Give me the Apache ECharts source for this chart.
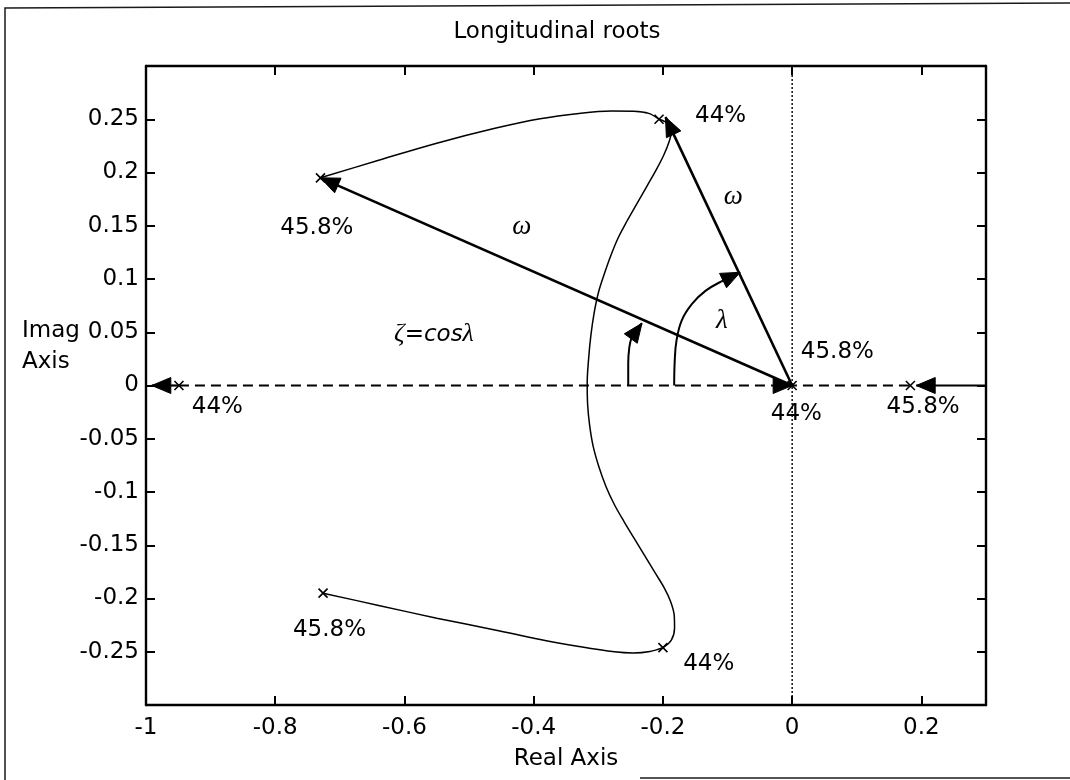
<!DOCTYPE html>
<html>
<head>
<meta charset="utf-8">
<title>Longitudinal roots</title>
<script src="https://cdn.jsdelivr.net/npm/echarts@6/dist/echarts.min.js"></script>
<style>
  html, body { margin: 0; padding: 0; background: #ffffff; }
  #chart { width: 1070px; height: 780px; }
</style>
</head>
<body>
<div id="chart"></div>
<script>
// ---- Text ----
const titleText = 'Longitudinal roots';
const xAxisName = 'Real Axis';
const yAxisName = 'Imag\nAxis';

// ---- Root-locus branches, [real, imag] ----
const upperBranch = [
  [-0.730, 0.195], [-0.640, 0.2115], [-0.550, 0.2275], [-0.460, 0.2415],
  [-0.390, 0.2505], [-0.330, 0.2555], [-0.280, 0.2577], [-0.245, 0.2575],
  [-0.222, 0.2555], [-0.206, 0.250]
];
const lowerBranch = [
  [-0.726, -0.195], [-0.640, -0.2065], [-0.550, -0.2185], [-0.460, -0.2295],
  [-0.390, -0.2385], [-0.330, -0.245], [-0.275, -0.2500], [-0.246, -0.2511],
  [-0.220, -0.2497], [-0.200, -0.2461]
];
const crossBranch = [
  [-0.206, 0.250], [-0.190, 0.245], [-0.187, 0.238], [-0.191, 0.228],
  [-0.199, 0.216], [-0.210, 0.203], [-0.224, 0.188], [-0.240, 0.171],
  [-0.256, 0.154], [-0.269, 0.139], [-0.280, 0.123], [-0.290, 0.106],
  [-0.2995, 0.088], [-0.3065, 0.068], [-0.3115, 0.047], [-0.315, 0.025],
  [-0.3172, 0.002], [-0.3165, -0.018], [-0.3135, -0.037], [-0.308, -0.057],
  [-0.299, -0.0766], [-0.288, -0.095], [-0.275, -0.112], [-0.260, -0.128],
  [-0.244, -0.144], [-0.228, -0.160], [-0.212, -0.176], [-0.198, -0.190],
  [-0.188, -0.203], [-0.1825, -0.216], [-0.182, -0.228], [-0.187, -0.239],
  [-0.200, -0.2461]
];
// Real-axis branch between the two real roots (dashed)
const realBranch = [[-0.949, 0], [0.183, 0]];
// Real-axis tails leaving the plot
const leftTail = [[-0.949, 0], [-0.991, 0]];
const rightTail = [[0.300, 0], [0.192, 0]];
// Imaginary-axis reference line
const imagRef = [[0, -0.3], [0, 0.3]];

// ---- Natural-frequency vectors (omega) ----
const omegaTo458 = [[0, 0], [-0.730, 0.195]];
const omegaTo44 = [[0, 0], [-0.196, 0.252]];

// ---- Damping angle arcs (lambda) ----
const lambdaArc44 = [
  [-0.1826, 0], [-0.1817, 0.0235], [-0.179, 0.0422], [-0.171, 0.061],
  [-0.155, 0.0766], [-0.1337, 0.0891], [-0.107, 0.0985], [-0.0805, 0.1063]
];
const lambdaArc458 = [
  [-0.2537, 0], [-0.2537, 0.0204], [-0.252, 0.0359], [-0.2483, 0.0453],
  [-0.243, 0.0516], [-0.2324, 0.0585]
];

// ---- Arrowheads: [fromReal, fromImag, tipReal, tipImag] ----
const arrowHeads = [
  [0, 0, -0.730, 0.195],
  [0, 0, -0.196, 0.252],
  [-0.107, 0.0985, -0.0805, 0.1063],
  [-0.2483, 0.0453, -0.2324, 0.0585],
  [-0.949, 0, -0.991, 0],
  [0.300, 0, 0.192, 0],
  [-0.100, 0, 0, 0]
];

// ---- Roots at the two CG positions ----
const roots = [
  [-0.730, 0.195], [-0.206, 0.250], [-0.726, -0.195], [-0.200, -0.2461],
  [-0.949, 0], [0.183, 0], [0, 0]
];

// ---- Annotations: [real, imag, text] ----
const rootLabels = [
  [-0.7356, 0.1479, '45.8%'],
  [-0.1108, 0.2526, '44%'],
  [0.070, 0.0313, '45.8%'],
  [0.0065, -0.0272, '44%'],
  [0.2027, -0.0203, '45.8%'],
  [-0.8896, -0.0203, '44%'],
  [-0.716, -0.2298, '45.8%'],
  [-0.129, -0.262, '44%']
];
const greekLabels = [
  [-0.4184, 0.1485, 'ω'],
  [-0.091, 0.1773, 'ω'],
  [-0.1087, 0.061, 'λ']
];
const dampingNote = [-0.5543, 0.0478, '{g|ζ}{s|=cos}{g|λ}'];

// ---- Styling ----
const SANS = '"DejaVu Sans", "Liberation Sans", Arial, sans-serif';
const SERIF = '"Liberation Serif", "DejaVu Serif", "Times New Roman", serif';
const INK = '#000000';
const FS = 23;

function path(data, width, opts) {
  return Object.assign({
    type: 'line',
    data: data,
    symbol: 'none',
    showSymbol: false,
    silent: true,
    smooth: false,
    clip: false,
    lineStyle: { color: INK, width: width },
    z: 3
  }, opts || {});
}

function textLayer(items, labelStyle) {
  return {
    type: 'scatter',
    silent: true,
    z: 8,
    symbolSize: 1,
    itemStyle: { color: 'rgba(0,0,0,0)', opacity: 1 },
    data: items.map(function (r) {
      return { value: [r[0], r[1]], name: r[2] };
    }),
    label: Object.assign({
      show: true, position: 'inside', formatter: '{b}',
      color: INK, opacity: 1, textBorderWidth: 0
    }, labelStyle)
  };
}

const axisBase = {
  type: 'value',
  axisLine: { show: true, onZero: false, lineStyle: { color: INK, width: 2.4 } },
  axisTick: { show: true, inside: true, length: 9, lineStyle: { color: INK, width: 2 } },
  splitLine: { show: false },
  minorTick: { show: false }
};
const xRange = { min: -1, max: 0.3, interval: 0.2 };
const yRange = { min: -0.3, max: 0.3, interval: 0.05 };

const chart = echarts.init(document.getElementById('chart'), null, { renderer: 'canvas' });

chart.setOption({
  animation: false,
  backgroundColor: '#ffffff',
  title: {
    text: titleText,
    left: 557,
    top: 32,
    padding: 0,
    textAlign: 'center',
    textVerticalAlign: 'middle',
    textStyle: { fontFamily: SANS, fontSize: FS, fontWeight: 'normal', color: INK }
  },
  grid: {
    left: 146, right: 84, top: 66, bottom: 75,
    containLabel: false,
    outerBoundsMode: 'none'
  },
  xAxis: [
    Object.assign({}, axisBase, xRange, {
      position: 'bottom',
      axisLabel: {
        fontFamily: SANS, fontSize: FS, color: INK, margin: 12,
        showMaxLabel: false
      },
      name: xAxisName,
      nameLocation: 'middle',
      nameGap: 43,
      nameTextStyle: { fontFamily: SANS, fontSize: FS, color: INK }
    }),
    Object.assign({}, axisBase, xRange, {
      position: 'top',
      axisLabel: { show: false }
    })
  ],
  yAxis: [
    Object.assign({}, axisBase, yRange, {
      position: 'left',
      axisLabel: {
        fontFamily: SANS, fontSize: FS, color: INK, margin: 7,
        showMinLabel: false, showMaxLabel: false
      }
    }),
    Object.assign({}, axisBase, yRange, {
      position: 'right',
      axisLabel: { show: false }
    })
  ],
  graphic: [
    {
      type: 'polyline',
      silent: true,
      shape: { points: [[1070, 3], [5, 8], [5, 780]] },
      style: { stroke: '#1a1a1a', lineWidth: 1.5, fill: null }
    },
    {
      type: 'line',
      silent: true,
      shape: { x1: 640, y1: 778, x2: 1070, y2: 778 },
      style: { stroke: '#1a1a1a', lineWidth: 1.5 }
    },
    {
      type: 'text',
      silent: true,
      x: 22,
      y: 316,
      style: {
        text: yAxisName,
        font: FS + 'px ' + SANS,
        fill: INK,
        lineHeight: 31,
        verticalAlign: 'top',
        align: 'left'
      }
    }
  ],
  series: [
    path(imagRef, 1.4, { lineStyle: { color: INK, width: 1.4, type: [2, 2] }, z: 2 }),
    path(realBranch, 2.2, { lineStyle: { color: INK, width: 2.2, type: [10, 6] } }),
    path(upperBranch, 1.5, { smooth: 0.35 }),
    path(lowerBranch, 1.5, { smooth: 0.35 }),
    path(crossBranch, 1.5, { smooth: 0.35 }),
    path(omegaTo458, 2.6),
    path(omegaTo44, 2.6),
    path(leftTail, 2.2),
    path(rightTail, 2.2),
    path(lambdaArc44, 2.0, { smooth: 0.4 }),
    path(lambdaArc458, 2.0, { smooth: 0.4 }),
    {
      type: 'custom',
      coordinateSystem: 'cartesian2d',
      silent: true,
      z: 6,
      data: arrowHeads,
      encode: { x: [0, 2], y: [1, 3] },
      renderItem: function (params, api) {
        const a = api.coord([api.value(0), api.value(1)]);
        const b = api.coord([api.value(2), api.value(3)]);
        const d = Math.hypot(b[0] - a[0], b[1] - a[1]) || 1;
        const ux = (b[0] - a[0]) / d;
        const uy = (b[1] - a[1]) / d;
        const len = 19, half = 8;
        const bx = b[0] - ux * len;
        const by = b[1] - uy * len;
        return {
          type: 'polygon',
          shape: { points: [[b[0], b[1]], [bx - uy * half, by + ux * half], [bx + uy * half, by - ux * half]] },
          style: { fill: INK, stroke: INK, lineWidth: 1 }
        };
      }
    },
    {
      type: 'scatter',
      silent: true,
      z: 7,
      data: roots,
      symbol: 'path://M0,0L10,10M10,0L0,10',
      symbolSize: 9,
      itemStyle: { color: 'rgba(0,0,0,0)', borderColor: INK, borderWidth: 1.6, opacity: 1 }
    },
    textLayer(rootLabels, { fontFamily: SANS, fontSize: FS }),
    textLayer(greekLabels, { fontFamily: SERIF, fontStyle: 'italic', fontSize: 27 }),
    textLayer([dampingNote], {
      rich: {
        g: { fontFamily: SERIF, fontStyle: 'italic', fontSize: 26, color: INK },
        s: { fontFamily: SANS, fontStyle: 'italic', fontSize: 23, color: INK }
      }
    })
  ]
});
</script>
</body>
</html>
